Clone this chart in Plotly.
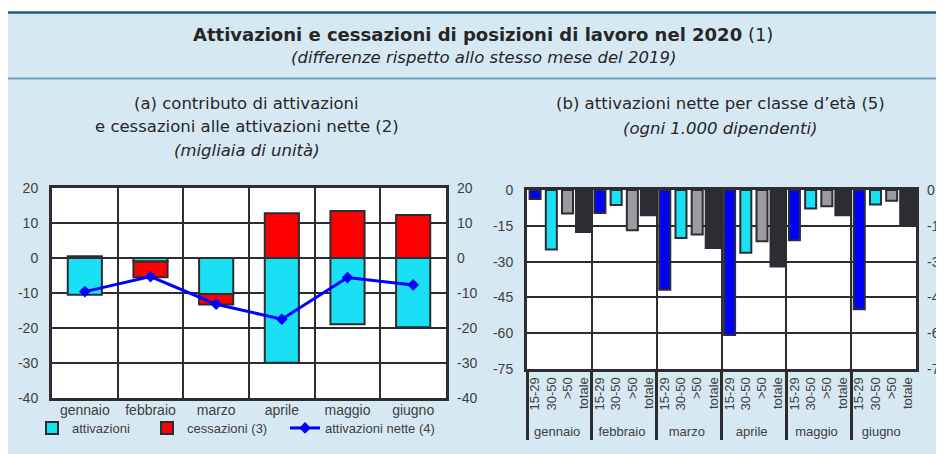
import plotly.graph_objects as go

# page is 944x454; browser body margin of 8px at top/left
OFF = 8
W, H = 944 - OFF, 454 - OFF

# ---------------- data ----------------
mesi = ["gennaio", "febbraio", "marzo", "aprile", "maggio", "giugno"]

# panel (a): contributions (thousands)
attivazioni = [-10.5, -1.0, -10.3, -29.9, -18.9, -19.8]
cessazioni = [0.5, -4.5, -3.0, 12.8, 13.4, 12.3]
attivazioni_nette = [-9.6, -5.3, -13.2, -17.5, -5.6, -7.7]

# panel (b): net activations per 1,000 employees by age class
classi = ["15-29", "30-50", ">50", "totale"]
eta_15_29 = [-3.8, -9.6, -41.8, -60.8, -21.1, -50.0]
eta_30_50 = [-24.9, -6.3, -20.1, -26.3, -7.7, -6.1]
eta_oltre_50 = [-9.8, -16.9, -18.6, -21.5, -6.8, -4.5]
eta_totale = [-17.6, -10.6, -24.3, -32.1, -10.6, -15.1]

yticks_a = [20, 10, 0, -10, -20, -30, -40]
yticks_b = [0, -15, -30, -45, -60, -75]
ylab_a = [str(v) for v in yticks_a]
ylab_b = [str(v) for v in yticks_b]

# ---------------- styles ----------------
BG = "#d6e9f3"
DARK = "#2b2d32"
TXT = "#404040"
CYAN = "#19e0f5"
RED = "#ff0000"
BLUE = "#0000ff"
GRAY = "#9c9ca0"
FONT = "Liberation Sans, Arial, sans-serif"
TFONT = "DejaVu Sans, Liberation Sans, sans-serif"

col_map = {"15-29": BLUE, "30-50": CYAN, ">50": GRAY, "totale": DARK}
wid_map = {"15-29": 0.68, "30-50": 0.68, ">50": 0.68, "totale": 0.95}


def px_x(p):
    return (p - OFF) / W


def px_y(p):
    return 1 - (p - OFF) / H


fig = go.Figure()

# panel (a)
fig.add_trace(go.Bar(x=mesi, y=attivazioni, name="attivazioni", marker=dict(color=CYAN, line=dict(color=DARK, width=2)),
                     width=0.52, xaxis="x", yaxis="y", legend="legend"))
fig.add_trace(go.Bar(x=mesi, y=cessazioni, name="cessazioni (3)", marker=dict(color=RED, line=dict(color=DARK, width=2)),
                     width=0.52, xaxis="x", yaxis="y", legend="legend2"))
fig.add_trace(go.Scatter(x=mesi, y=attivazioni_nette, name="attivazioni nette (4)", mode="lines+markers",
                         line=dict(color=BLUE, width=3), marker=dict(symbol="diamond", size=9, color=BLUE),
                         xaxis="x", yaxis="y", legend="legend3"))
# invisible companion so the right-hand axis of panel (a) is drawn
fig.add_trace(go.Scatter(x=mesi, y=attivazioni_nette, mode="markers", marker=dict(opacity=0),
                         showlegend=False, hoverinfo="skip", xaxis="x", yaxis="y3"))

# panel (b)
outer, inner, vals, cols, wids = [], [], [], [], []
series = [eta_15_29, eta_30_50, eta_oltre_50, eta_totale]
for i, m in enumerate(mesi):
    for j, c in enumerate(classi):
        outer.append(m)
        inner.append(c)
        vals.append(series[j][i])
        cols.append(col_map[c])
        wids.append(wid_map[c])
fig.add_trace(go.Bar(x=[outer, inner], y=vals, width=wids, marker=dict(color=cols, line=dict(color=DARK, width=2)),
                     showlegend=False, xaxis="x2", yaxis="y2"))

n_b = len(outer)
bounds = [k * len(classi) - 0.5 for k in range(1, len(mesi))]

# invisible companion (on the helper grid axis) so the right-hand axis of panel (b) is drawn
fig.add_trace(go.Scatter(x=list(range(n_b)), y=vals, mode="markers", marker=dict(opacity=0),
                         showlegend=False, hoverinfo="skip", xaxis="x3", yaxis="y4"))

xa_dom = [px_x(52), px_x(446)]
ya_dom = [px_y(398), px_y(188)]
xb_dom = [px_x(527), px_x(916)]
yb_dom = [px_y(369), px_y(190)]

tickfont = dict(family=FONT, size=14, color=TXT)

fig.update_layout(
    width=W, height=H,
    margin=dict(l=0, r=0, t=0, b=0, autoexpand=False),
    paper_bgcolor=BG, plot_bgcolor="white",
    barmode="relative",
    font=dict(family=FONT, color=TXT),
    xaxis=dict(domain=xa_dom, anchor="y", type="category", tickson="boundaries", showgrid=True,
               gridcolor=DARK, gridwidth=2, showline=True, mirror=True, linecolor=DARK, linewidth=3,
               ticks="", tickfont=tickfont, ticklabelstandoff=-3),
    yaxis=dict(domain=ya_dom, anchor="x", range=[-40, 20], tickvals=yticks_a, ticktext=ylab_a, showgrid=True,
               gridcolor=DARK, gridwidth=2, zeroline=False, showline=True, mirror=True,
               linecolor=DARK, linewidth=3, ticks="", tickfont=tickfont, ticklabelstandoff=8),
    yaxis3=dict(overlaying="y", anchor="x", side="right", range=[-40, 20],
                tickvals=yticks_a, ticktext=ylab_a,
                showgrid=False, zeroline=False, ticks="", tickfont=tickfont, ticklabelstandoff=10),
    xaxis2=dict(domain=xb_dom, anchor="y2", type="multicategory", showgrid=False,
                range=[-0.5, n_b - 0.5],
                showline=True, mirror=True, linecolor=DARK, linewidth=3, ticks="",
                tickangle=-90, tickfont=dict(family=FONT, size=13, color=TXT),
                showdividers=True, dividercolor=DARK, dividerwidth=3),
    xaxis3=dict(overlaying="x2", anchor="y2", range=[-0.5, n_b - 0.5], tickvals=bounds,
                showgrid=True, gridcolor=DARK, gridwidth=2, showticklabels=False, ticks="",
                zeroline=False, showline=False),
    yaxis2=dict(domain=yb_dom, anchor="x2", range=[-75, 0], tickvals=yticks_b, ticktext=ylab_b, showgrid=True,
                gridcolor=DARK, gridwidth=2, zeroline=False, showline=True, mirror=True,
                linecolor=DARK, linewidth=3, ticks="", tickfont=tickfont, ticklabelstandoff=8),
    yaxis4=dict(overlaying="y2", anchor="x3", side="right", range=[-75, 0],
                tickvals=yticks_b, ticktext=ylab_b,
                showgrid=False, zeroline=False, ticks="", tickfont=tickfont, ticklabelstandoff=10),
)

leg_common = dict(orientation="h", yanchor="middle", y=px_y(428), xanchor="left",
                  bgcolor="rgba(0,0,0,0)", font=dict(family=FONT, size=13, color=TXT))
fig.update_layout(
    legend=dict(x=px_x(72 - 40), **leg_common),
    legend2=dict(x=px_x(187 - 40), **leg_common),
    legend3=dict(x=px_x(325 - 40), **leg_common),
)

# header shapes
fig.add_shape(type="rect", xref="paper", yref="paper", x0=0, x1=1, y0=px_y(12), y1=1,
              fillcolor="white", line_width=0, layer="below")
fig.add_shape(type="line", xref="paper", yref="paper", x0=0, x1=1, y0=px_y(12.5), y1=px_y(12.5),
              line=dict(color="#1d5f8a", width=2.5))
fig.add_shape(type="line", xref="paper", yref="paper", x0=0, x1=1, y0=px_y(78.5), y1=px_y(78.5),
              line=dict(color="#6c9fc1", width=2))

ann = [
    (px_x(483), px_y(35), "<b>Attivazioni e cessazioni di posizioni di lavoro nel 2020</b> (1)", 18),
    (px_x(483), px_y(58), "<i>(differenze rispetto allo stesso mese del 2019)</i>", 16.5),
    (px_x(247), px_y(104), "(a) contributo di attivazioni", 16.5),
    (px_x(247), px_y(126), "e cessazioni alle attivazioni nette (2)", 16.5),
    (px_x(247), px_y(150), "<i>(migliaia di unità)</i>", 16.5),
    (px_x(720), px_y(104), "(b) attivazioni nette per classe d’età (5)", 16.5),
    (px_x(720), px_y(128), "<i>(ogni 1.000 dipendenti)</i>", 16.5),
]
for x, y, t, s in ann:
    fig.add_annotation(x=x, y=y, xref="paper", yref="paper", text=t, showarrow=False,
                       xanchor="center", yanchor="middle", font=dict(family=TFONT, size=s, color="#262626"))

fig.write_html("out.html")
